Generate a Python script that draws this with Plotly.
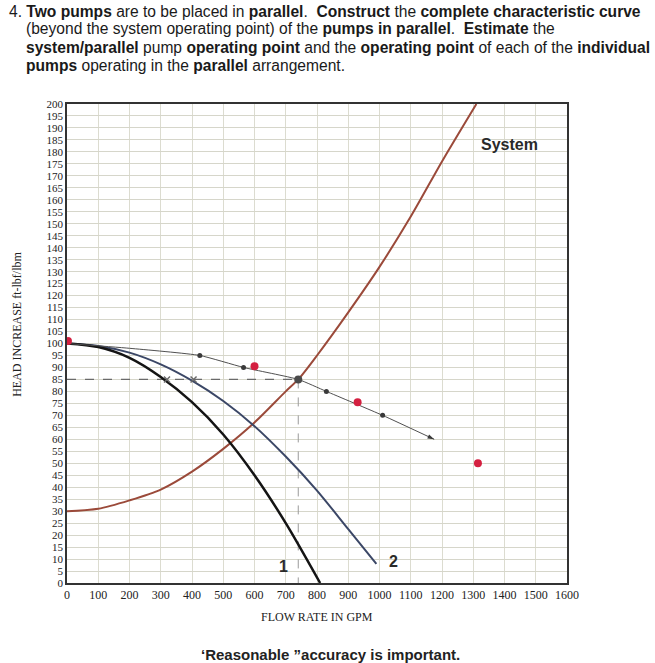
import plotly.graph_objects as go

# ---- data ----
system_q = [0, 100, 200, 300, 400, 500, 600, 700, 740, 800, 900, 1000, 1100, 1200, 1310]
system_h = [30, 31, 34.5, 39, 46.5, 56, 67, 80, 85, 95, 113, 132, 153, 176, 200]

pump1_q = [0, 100, 200, 300, 400, 500, 600, 700, 810]
pump1_h = [100, 98.5, 94, 86, 75.5, 62, 45, 25, 0]

pump2_q = [0, 100, 200, 300, 400, 500, 600, 700, 800, 900, 990]
pump2_h = [100, 99, 96.2, 91.3, 84.5, 76, 65.5, 52.8, 38.6, 22.5, 8]

parallel_q = [0, 200, 425, 565, 740, 830, 1010, 1175]
parallel_h = [100, 98, 95, 90, 85, 80, 70, 60]

parallel_dot_q = [425, 565, 830, 1010]
parallel_dot_h = [95, 90, 80, 70]

operating_q = [740]
operating_h = [85]

individual_q = [320, 405]
individual_h = [85, 85]

red_q = [3, 600, 930, 1315]
red_h = [101, 90.5, 75.5, 50]

x_ticks = list(range(0, 1601, 100))
y_ticks = list(range(0, 201, 5))

fig = go.Figure()

# dashed guide lines through operating point
fig.add_trace(go.Scatter(x=[0, operating_q[0]], y=[operating_h[0], operating_h[0]], mode="lines",
                         line=dict(color="#6a6a6a", width=1.2, dash="dash"), showlegend=False, hoverinfo="skip"))
fig.add_trace(go.Scatter(x=[operating_q[0], operating_q[0]], y=[operating_h[0], 0], mode="lines",
                         line=dict(color="#9a9a9a", width=1, dash="dash"), showlegend=False, hoverinfo="skip"))

fig.add_trace(go.Scatter(x=system_q, y=system_h, mode="lines",
                         line=dict(color="#9b4a3a", width=2, shape="spline", smoothing=0.8), showlegend=False))
fig.add_trace(go.Scatter(x=pump2_q, y=pump2_h, mode="lines",
                         line=dict(color="#3b4766", width=2, shape="spline", smoothing=0.8), showlegend=False))
fig.add_trace(go.Scatter(x=pump1_q, y=pump1_h, mode="lines",
                         line=dict(color="#141414", width=2.5, shape="spline", smoothing=0.8), showlegend=False))
fig.add_trace(go.Scatter(x=parallel_q, y=parallel_h, mode="lines",
                         line=dict(color="#505050", width=1, shape="spline", smoothing=0.5), showlegend=False))
fig.add_trace(go.Scatter(x=parallel_dot_q, y=parallel_dot_h, mode="markers",
                         marker=dict(color="#3a3a3a", size=5), showlegend=False))
fig.add_trace(go.Scatter(x=[parallel_q[-1]], y=[parallel_h[-1]], mode="markers",
                         marker=dict(color="#3a3a3a", size=7, symbol="arrow", angle=115), showlegend=False))
fig.add_trace(go.Scatter(x=individual_q, y=individual_h, mode="markers",
                         marker=dict(color="#6a6a6a", size=6, symbol="x-thin", line=dict(width=1.5, color="#6a6a6a")),
                         showlegend=False))
fig.add_trace(go.Scatter(x=operating_q, y=operating_h, mode="markers",
                         marker=dict(color="#4a4a4a", size=8), showlegend=False))
fig.add_trace(go.Scatter(x=red_q, y=red_h, mode="markers",
                         marker=dict(color="#d42040", size=8), showlegend=False))

sans = "Liberation Sans, Arial, sans-serif"
serif = "Liberation Serif, Times New Roman, serif"

annotations = [
    dict(text="<b>System</b>", x=1415, y=183, xref="x", yref="y", showarrow=False,
         font=dict(family=sans, size=16, color="#2a2a2a"), xanchor="center", yanchor="middle"),
    dict(text="<b>1</b>", x=692, y=7, xref="x", yref="y", showarrow=False,
         font=dict(family=sans, size=16, color="#2a2a2a")),
    dict(text="<b>2</b>", x=1044, y=9, xref="x", yref="y", showarrow=False,
         font=dict(family=sans, size=16, color="#2a2a2a")),
    dict(text="HEAD INCREASE ft-lbf/lbm", x=-0.1, y=0.539, xref="paper", yref="paper", textangle=-90,
         showarrow=False, font=dict(family=serif, size=12, color="#222"), xanchor="center", yanchor="middle"),
    dict(text="FLOW RATE IN GPM", x=0.5, y=-0.071, xref="paper", yref="paper",
         showarrow=False, font=dict(family=serif, size=12, color="#222"), xanchor="center", yanchor="middle"),
    dict(text="<b>‘Reasonable ”accuracy is important.</b>", x=0.526, y=-0.150, xref="paper", yref="paper",
         showarrow=False, font=dict(family=sans, size=15, color="#222"), xanchor="center", yanchor="middle"),
]

lines = [
    ("4. <b>Two pumps</b> are to be placed in <b>parallel</b>.  <b>Construct</b> the <b>complete characteristic curve</b>", -0.12, 11),
    ("(beyond the system operating point) of the <b>pumps in parallel</b>.  <b>Estimate</b> the", -0.086, 29),
    ("<b>system/parallel</b> pump <b>operating point</b> and the <b>operating point</b> of each of the <b>individual</b>", -0.086, 47),
    ("<b>pumps</b> operating in the <b>parallel</b> arrangement.", -0.086, 65),
]
for txt, xp, py in lines:
    annotations.append(dict(text=txt, x=xp, y=(583 - py) / 479, xref="paper", yref="paper", showarrow=False,
                            xanchor="left", yanchor="middle", font=dict(family=sans, size=15.6, color="#1a1a1a")))

fig.update_layout(
    width=655, height=663,
    margin=dict(l=67, r=88, t=104, b=80),
    paper_bgcolor="white", plot_bgcolor="white",
    annotations=annotations,
    showlegend=False,
)
fig.update_xaxes(range=[0, 1600], tickvals=x_ticks, ticktext=[str(v) for v in x_ticks],
                 showgrid=True, gridcolor="#dcdcd0", gridwidth=1, zeroline=False,
                 showline=True, linecolor="#333", linewidth=1.5, mirror=True, ticks="",
                 tickfont=dict(family=serif, size=12, color="#222"))
fig.update_yaxes(range=[0, 200], tickvals=y_ticks, ticktext=[str(v) for v in y_ticks],
                 showgrid=True, gridcolor="#d6d6ca", gridwidth=1, zeroline=False,
                 showline=True, linecolor="#333", linewidth=1.5, mirror=True, ticks="",
                 tickfont=dict(family=serif, size=11, color="#222"))

fig.write_html("out.html")
